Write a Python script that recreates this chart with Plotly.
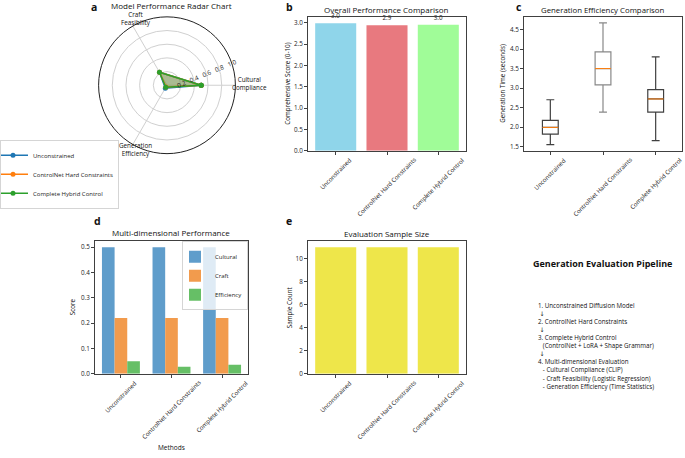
import plotly.graph_objects as go

W, H = 685, 458
FONT = "Open Sans"

# ---------------- data ----------------
methods = ["Unconstrained", "ControlNet Hard Constraints", "Complete Hybrid Control"]
radar_labels = ["Cultural<br>Compliance", "Craft<br>Feasibility", "Generation<br>Efficiency"]
cultural = [0.50, 0.50, 0.50]
craft = [0.22, 0.22, 0.22]
efficiency = [0.049, 0.028, 0.035]
overall_score = [2.99, 2.94, 2.955]
box_lower = [1.55, 2.38, 1.65]
box_q1 = [1.82, 3.08, 2.38]
box_median = [1.99, 3.50, 2.72]
box_q3 = [2.17, 3.93, 2.96]
box_upper = [2.70, 4.67, 3.80]
sample_count = [11, 11, 11]
radial_ticks = [0.2, 0.4, 0.6, 0.8, 1.0]
pipeline_title = "Generation Evaluation Pipeline"
pipeline_lines = [
    "1. Unconstrained Diffusion Model",
    " ↓",
    "2. ControlNet Hard Constraints",
    " ↓",
    "3. Complete Hybrid Control",
    "   (ControlNet + LoRA + Shape Grammar)",
    " ↓",
    "4. Multi-dimensional Evaluation",
    "   - Cultural Compliance (CLIP)",
    "   - Craft Feasibility (Logistic Regression)",
    "   - Generation Efficiency (Time Statistics)",
]

# ---------------- styles ----------------
radar_colors = ["#1f77b4", "#ff7f0e", "#2ca02c"]
radar_fill = ["rgba(31,119,180,0.25)", "rgba(255,127,14,0.25)", "rgba(44,160,44,0.25)"]
overall_colors = ["#8fd5ea", "#e8797f", "#a0fc98"]
dim_names = ["Cultural", "Craft", "Efficiency"]
dim_colors = ["#5f9dcb", "#f29b4d", "#66bf66"]
box_line_colors = ["#404040", "#888888", "#404040"]
yellow = "#eee64a"
spine = "#404040"


def fx(p):
    return p / W


def fy(p):
    return 1 - p / H


fig = go.Figure()
pos = list(range(len(methods)))

# ---- a: radar ----
n = len(radar_labels)
theta = [i * 360 / n for i in range(n)]
radar_vals = [[cultural[i], craft[i], efficiency[i]] for i in range(len(methods))]
for i, m in enumerate(methods):
    vals = radar_vals[i]
    fig.add_trace(go.Scatterpolar(
        r=vals + vals[:1], theta=theta + theta[:1], mode="lines",
        fill="toself", fillcolor=radar_fill[i], line=dict(width=0),
        showlegend=False, subplot="polar", hoverinfo="skip"))
for i, m in enumerate(methods):
    vals = radar_vals[i]
    fig.add_trace(go.Scatterpolar(
        r=vals + vals[:1], theta=theta + theta[:1], mode="lines+markers", name=m,
        line=dict(color=radar_colors[i], width=1.5), marker=dict(size=5, color=radar_colors[i]),
        legend="legend", subplot="polar"))

# ---- b: overall bars ----
fig.add_trace(go.Bar(
    x=pos, y=overall_score, width=0.8, marker=dict(color=overall_colors, line=dict(width=0)),
    text=overall_score, texttemplate="%{y:.1f}", textposition="outside", cliponaxis=False,
    textfont=dict(family=FONT, size=6.3, color="#222"), showlegend=False, xaxis="x", yaxis="y"))

# ---- c: box plots ----
bpos = [p + 1 for p in pos]
for i in range(len(methods)):
    fig.add_trace(go.Box(
        x=[bpos[i]], q1=[box_q1[i]], median=[box_median[i]], q3=[box_q3[i]],
        lowerfence=[box_lower[i]], upperfence=[box_upper[i]], width=0.3, whiskerwidth=0.5,
        line=dict(color=box_line_colors[i], width=1.2), fillcolor="rgba(0,0,0,0)",
        boxpoints=False, showlegend=False, xaxis="x2", yaxis="y2", hoverinfo="skip"))
mx, my = [], []
for i in range(len(methods)):
    mx += [bpos[i] - 0.15, bpos[i] + 0.15, None]
    my += [box_median[i], box_median[i], None]
fig.add_trace(go.Scatter(x=mx, y=my, mode="lines", line=dict(color="#ff7f0e", width=1),
                         showlegend=False, xaxis="x2", yaxis="y2"))

# ---- d: grouped bars ----
dims = [cultural, craft, efficiency]
bw = 0.25
for k, (nm, vals) in enumerate(zip(dim_names, dims)):
    fig.add_trace(go.Bar(
        x=pos, y=vals, width=bw, offset=-1.5 * bw + k * bw, name=nm,
        marker=dict(color=dim_colors[k], line=dict(width=0)),
        legend="legend2", xaxis="x3", yaxis="y3"))

# ---- e: sample size ----
fig.add_trace(go.Bar(x=pos, y=sample_count, width=0.8, marker=dict(color=yellow, line=dict(width=0)),
                     showlegend=False, xaxis="x4", yaxis="y4"))

# ---------------- layout ----------------
tickfont = dict(family=FONT, size=6.3, color="#222")


def xax(d, rng, tv):
    return dict(domain=[fx(d[0]), fx(d[1])], range=rng, tickvals=tv, showticklabels=False,
                ticks="outside", ticklen=3, tickcolor=spine, showline=True, mirror=True,
                linecolor=spine, linewidth=1, showgrid=False, zeroline=False)


def yax(d, rng, dtick, fmt, anchor):
    return dict(domain=[fy(d[1]), fy(d[0])], range=rng, dtick=dtick, tickformat=fmt,
                ticks="outside", ticklen=3, tickcolor=spine, showline=True, mirror=True,
                linecolor=spine, linewidth=1, showgrid=False, zeroline=False,
                tickfont=tickfont, anchor=anchor)


B = (308, 466, 17, 152)
C = (524, 682, 17, 152)
D = (95, 248, 243, 377)
E = (308, 466, 243, 377)

layout = dict(
    width=W, height=H, margin=dict(l=0, r=0, t=0, b=0),
    paper_bgcolor="white", plot_bgcolor="white", barmode="overlay",
    font=dict(family=FONT, size=7, color="#222"),
    xaxis=dict(xax(B[:2], [-0.54, 2.54], pos), anchor="y"),
    yaxis=yax(B[2:], [0, 3.14], 0.5, ".1f", "x"),
    xaxis2=dict(xax(C[:2], [0.5, 3.5], bpos), anchor="y2"),
    yaxis2=yax(C[2:], [1.394, 4.826], 0.5, ".1f", "x2"),
    xaxis3=dict(xax(D[:2], [-0.5125, 2.5125], pos), anchor="y3"),
    yaxis3=yax(D[2:], [0, 0.525], 0.1, ".1f", "x3"),
    xaxis4=dict(xax(E[:2], [-0.54, 2.54], pos), anchor="y4"),
    yaxis4=yax(E[2:], [0, 11.55], 2, "d", "x4"),
    polar=dict(
        domain=dict(x=[fx(98), fx(236)], y=[fy(155), fy(17)]),
        bgcolor="white",
        angularaxis=dict(rotation=0, direction="counterclockwise", tickvals=theta,
                         ticktext=radar_labels, showticklabels=False, showline=True,
                         linecolor="#222", linewidth=1, gridcolor="#d0d0d0", ticks=""),
        radialaxis=dict(range=[0, 1], tickvals=radial_ticks, tickformat=".1f", angle=22.5,
                        showline=False, gridcolor="#d0d0d0", ticks="",
                        tickfont=dict(family=FONT, size=6.3, color="#222")),
    ),
    legend=dict(x=0, y=fy(141), xanchor="left", yanchor="top", bgcolor="rgba(255,255,255,0)",
                bordercolor="#d5d5d5", borderwidth=1, font=dict(family=FONT, size=6, color="#222"),
                tracegroupgap=0, itemwidth=30, indentation=-8),
    legend2=dict(x=fx(248), y=fy(243.5), xanchor="right", yanchor="top", bgcolor="rgba(255,255,255,0.8)",
                 bordercolor="#d5d5d5", borderwidth=1, font=dict(family=FONT, size=6, color="#222"),
                 tracegroupgap=0, itemwidth=30, indentation=-8),
)
fig.update_layout(**layout)

ann = []


def text(x, y, s, size=8, bold=False, angle=0, xa="center", ya="middle", align="center"):
    ann.append(dict(x=fx(x), y=fy(y), xref="paper", yref="paper", text=("<b>%s</b>" % s) if bold else s,
                    showarrow=False, font=dict(family=FONT, size=size, color="#111"),
                    textangle=angle, xanchor=xa, yanchor=ya, align=align))


# radar category labels (placed like matplotlib's centred theta labels)
for lab, (x, y) in zip(radar_labels, [(249, 84), (136, 19), (135, 151)]):
    text(x, y, lab, 6.3)
# titles
text(171, 6, "Model Performance Radar Chart", 8)
text(387, 10, "Overall Performance Comparison", 8)
text(603, 10, "Generation Efficiency Comparison", 7.8)
text(171, 235, "Multi-dimensional Performance", 8)
text(387, 236, "Evaluation Sample Size", 8)
# panel letters
for lab, (x, y) in zip("abcde", [(94, 7), (289, 7), (519, 7), (97, 223), (289, 223)]):
    text(x, y, lab, 10.5, bold=True)
# axis titles
text(288, 84.5, "Comprehensive Score (0-10)", 6.3, angle=-90)
text(503, 84.5, "Generation Time (seconds)", 6.3, angle=-90)
text(72, 310, "Score", 6.3, angle=-90)
text(289, 310, "Sample Count", 6.3, angle=-90)
text(171, 451, "Methods", 6.5)

# rotated category labels
for xa_name, panel, xs in [("x", B, pos), ("x2", C, bpos), ("x3", D, pos), ("x4", E, pos)]:
    for xv, m in zip(xs, methods):
        ann.append(dict(x=xv, y=fy(panel[3] + 4), xref=xa_name, yref="paper", text=m, showarrow=False,
                        textangle=-45, xanchor="center", yanchor="top", borderpad=0,
                        font=dict(family=FONT, size=6.0, color="#222")))

# pipeline panel
text(602, 266, pipeline_title, 9, bold=True)
arrow_span = '<span style="font-family:DejaVu Sans">↓</span>'
body_lines = []
for l in pipeline_lines:
    t = l.replace(" ", "\u00a0")
    t = t.replace("↓", arrow_span)
    body_lines.append(t)
body = "<br>".join(body_lines)
text(536, 302, body, 6.2, xa="left", ya="top", align="left")

fig.update_layout(annotations=ann)
fig.write_html("out.html", config={"displayModeBar": False},
               post_script="document.body.style.margin='0';document.body.style.overflow='hidden';")
